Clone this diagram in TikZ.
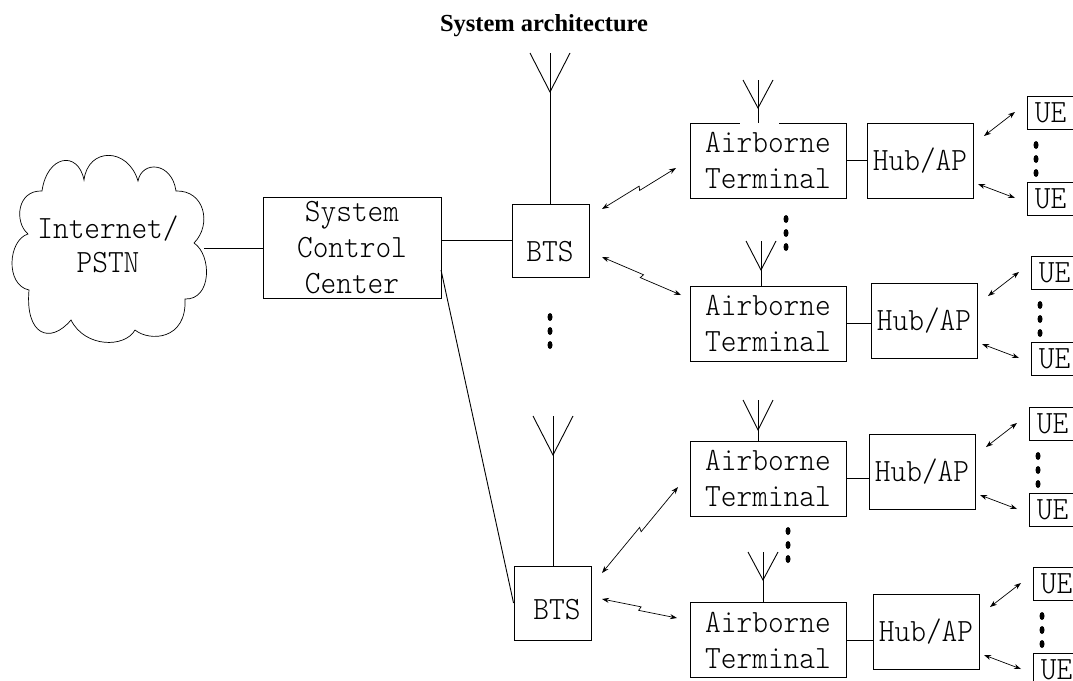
\documentclass[tikz,border=0pt]{standalone}
\usepackage{fontspec}
\setmainfont{Liberation Serif}
\setmonofont[FakeStretch=0.92]{Latin Modern Mono Light}
\usetikzlibrary{calc,arrows.meta}
\newcommand{\dotstack}[2]{\foreach \k in {0,1,2} \fill (#1,#2+14*\k) ellipse (2.5pt and 4pt);}
\newcommand{\antenna}[6]{% name, mast x, top y, half width, fork depth, box
    \coordinate (#1) at (#2,#3);
    \draw (#2-#4,#3) -- (#2,#3+#5) -- (#2+#4,#3);
    \draw (#1) -- (#1 |- #6.north);}
\newcommand{\monofont}{\fontsize{32.5}{36}\selectfont\ttfamily}
\tikzset{
    box/.style={draw,inner sep=0pt,font=\monofont,align=center},
    ue/.style={draw,anchor=west,minimum width=70pt,minimum height=33pt,inner xsep=5pt,inner ysep=0pt,
        text width=55pt,align=left,font=\monofont},
    link/.style={<->,to path={-- ($(\tikztostart)!.515!(\tikztotarget)!2pt!90:(\tikztotarget)$)
        -- ($(\tikztostart)!.495!(\tikztotarget)!2pt!-90:(\tikztotarget)$) -- (\tikztotarget)}},
}
\begin{document}
\begin{tikzpicture}[>={Stealth[length=7pt,width=5pt]},x=1pt,y=-1pt,line width=0.9pt]
    \path[use as bounding box,clip] (0,0) rectangle (1073,680);
    \node[font=\fontsize{24.5}{26}\selectfont\bfseries] (title) at (544,26) {System architecture};
    % cloud
    \draw[line width=0.7pt] (84,180) .. controls (88,147) and (128,147) .. (138,181)
        .. controls (142,160) and (172,162) .. (176,191)
        .. controls (205,190) and (212,225) .. (194,243)
        .. controls (212,255) and (212,300) .. (185,299)
        .. controls (187,340) and (150,342) .. (135,330)
        .. controls (125,348) and (85,348) .. (71,320)
        .. controls (50,345) and (25,335) .. (29,290)
        .. controls (5,285) and (8,240) .. (28,234)
        .. controls (14,222) and (17,190) .. (42,191)
        .. controls (47,155) and (78,150) .. (84,180) -- cycle;
    \node[font=\monofont,align=center] (inet) at (108,244) {Internet/\\[-2pt]PSTN};
    \coordinate (inetout) at (204,248);
    \node[box,minimum width=178pt,minimum height=101pt] (scc) at (352,248) {System\\Control\\Center};
    \node[box,minimum width=77pt,minimum height=73pt] (bts1box) at (550.5,240.5) {};
    \node[box,minimum width=77pt,minimum height=74pt] (bts2box) at (552.5,603) {};
    \node[font=\monofont] (bts1) at (550,252) {BTS};
    \node[font=\monofont] (bts2) at (557,610) {BTS};
    \coordinate (sccout) at (441,270);
    \draw (inetout) -- (scc.west |- inetout);
    \draw (scc.east |- bts1box.west) -- (bts1box.west);
    \draw (sccout) -- (bts2box.west);
    \antenna{ant1}{550}{53}{20}{39}{bts1box}
    \antenna{ant2}{553}{416}{20}{39}{bts2box}
    \dotstack{550}{317}
    % airborne terminals
    \foreach \n/\yc in {1/160.5,2/323.5,3/478.5,4/640}{
        \node[box,minimum width=156pt,minimum height=75pt] (air\n) at (768,\yc) {Airborne\\Terminal};
    }
    \draw[white,line width=2pt] (740,123) -- (779,123);
    \foreach \n/\mx/\mtop/\mdepth in {1/758/80/28,2/761/241/29,3/758/400/30,4/763/552/28}{
        \antenna{airant\n}{\mx}{\mtop}{15}{\mdepth}{air\n}
    }
    \dotstack{786}{219}
    \dotstack{788}{531}
    % hubs and UEs
    \foreach \n/\dx/\dy in {1/0/0,2/4/160,3/2/311,4/6/471}{
        \begin{scope}[shift={(\dx,\dy)}]
            \node[box,minimum width=106pt,minimum height=75pt] (hub\n) at (920,160.5) {Hub/AP};
            \node[ue] (ue\n a) at (1027,112.5) {UE};
            \node[ue] (ue\n b) at (1027,198.5) {UE};
            \dotstack{1036}{145}
            \coordinate (ue\n as) at (984,136);
            \coordinate (ue\n ae) at (1015,112);
            \coordinate (ue\n bs) at (978,184);
            \coordinate (ue\n be) at (1015,198);
            \draw[<->,line width=0.7pt] (ue\n as) -- (ue\n ae);
            \draw[<->,line width=0.7pt] (ue\n bs) -- (ue\n be);
        \end{scope}
        \draw (air\n.east) -- (air\n.east -| hub\n.west);
    }
    % wireless links
    \coordinate (l1a) at (602,209);
    \coordinate (l1b) at (676,168);
    \coordinate (l2a) at (602,257);
    \coordinate (l2b) at (681,295);
    \coordinate (l3a) at (602,573);
    \coordinate (l3b) at (678,487);
    \coordinate (l4a) at (602,599);
    \coordinate (l4b) at (677,618);
    \foreach \n in {1,2,3,4}
        \draw[link,line width=0.7pt] (l\n a) to (l\n b);
\end{tikzpicture}
\end{document}
